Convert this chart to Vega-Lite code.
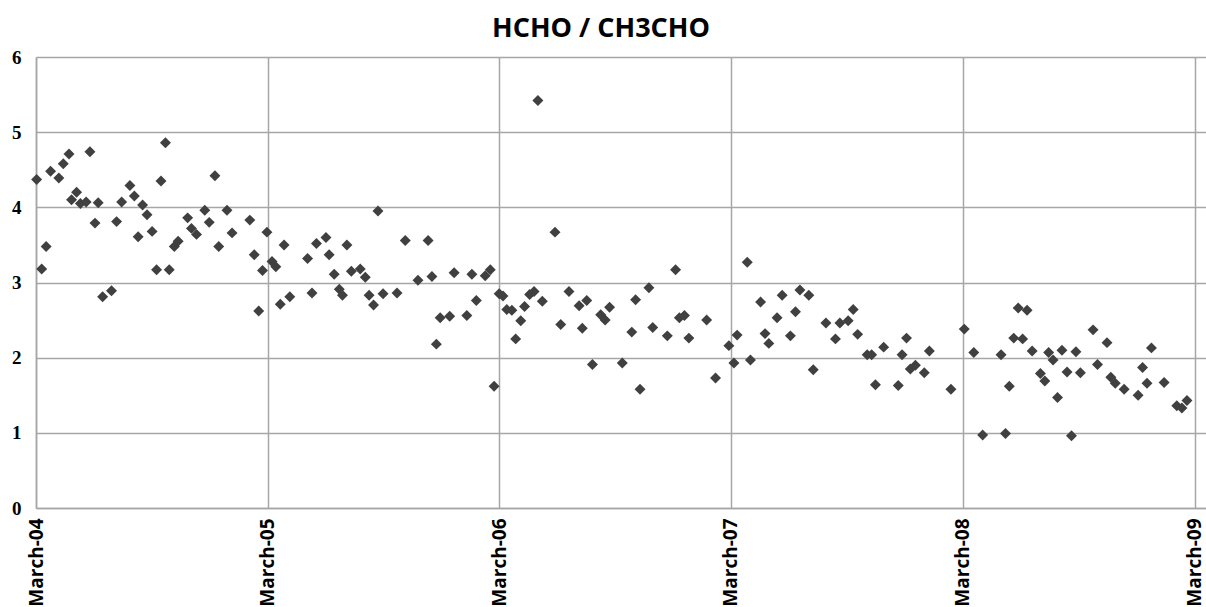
{
  "$schema": "https://vega.github.io/schema/vega-lite/v6.json",
  "width": 1170,
  "height": 451,
  "autosize": {"type": "none"},
  "padding": {"left": 36, "top": 57, "right": 0, "bottom": 99},
  "background": "white",
  "title": {
    "text": "HCHO / CH3CHO",
    "font": "Open Sans",
    "fontSize": 27,
    "fontWeight": "bold",
    "color": "#000000",
    "anchor": "middle",
    "dx": -20,
    "offset": 5
  },
  "config": {
    "view": {"stroke": null},
    "axis": {"domain": false}
  },
  "data": {
    "values": [
      {"date": "2004-03-02", "v": 4.37},
      {"date": "2004-03-10", "v": 3.18},
      {"date": "2004-03-17", "v": 3.48},
      {"date": "2004-03-24", "v": 4.48},
      {"date": "2004-04-06", "v": 4.39},
      {"date": "2004-04-13", "v": 4.58},
      {"date": "2004-04-22", "v": 4.71},
      {"date": "2004-04-26", "v": 4.10},
      {"date": "2004-05-04", "v": 4.20},
      {"date": "2004-05-10", "v": 4.05},
      {"date": "2004-05-19", "v": 4.07},
      {"date": "2004-05-25", "v": 4.74},
      {"date": "2004-06-02", "v": 3.79},
      {"date": "2004-06-07", "v": 4.06},
      {"date": "2004-06-14", "v": 2.81},
      {"date": "2004-06-28", "v": 2.89},
      {"date": "2004-07-06", "v": 3.81},
      {"date": "2004-07-14", "v": 4.07},
      {"date": "2004-07-27", "v": 4.29},
      {"date": "2004-08-03", "v": 4.15},
      {"date": "2004-08-09", "v": 3.61},
      {"date": "2004-08-16", "v": 4.03},
      {"date": "2004-08-23", "v": 3.90},
      {"date": "2004-08-31", "v": 3.68},
      {"date": "2004-09-07", "v": 3.17},
      {"date": "2004-09-14", "v": 4.35},
      {"date": "2004-09-21", "v": 4.86},
      {"date": "2004-09-27", "v": 3.17},
      {"date": "2004-10-05", "v": 3.48},
      {"date": "2004-10-11", "v": 3.55},
      {"date": "2004-10-26", "v": 3.86},
      {"date": "2004-11-01", "v": 3.72},
      {"date": "2004-11-09", "v": 3.64},
      {"date": "2004-11-22", "v": 3.96},
      {"date": "2004-11-29", "v": 3.80},
      {"date": "2004-12-08", "v": 4.42},
      {"date": "2004-12-14", "v": 3.48},
      {"date": "2004-12-27", "v": 3.96},
      {"date": "2005-01-04", "v": 3.66},
      {"date": "2005-02-01", "v": 3.83},
      {"date": "2005-02-08", "v": 3.37},
      {"date": "2005-02-15", "v": 2.62},
      {"date": "2005-02-21", "v": 3.16},
      {"date": "2005-02-28", "v": 3.67},
      {"date": "2005-03-08", "v": 3.28},
      {"date": "2005-03-14", "v": 3.21},
      {"date": "2005-03-21", "v": 2.71},
      {"date": "2005-03-27", "v": 3.50},
      {"date": "2005-04-05", "v": 2.81},
      {"date": "2005-05-03", "v": 3.32},
      {"date": "2005-05-10", "v": 2.86},
      {"date": "2005-05-17", "v": 3.52},
      {"date": "2005-06-01", "v": 3.60},
      {"date": "2005-06-06", "v": 3.37},
      {"date": "2005-06-14", "v": 3.11},
      {"date": "2005-06-22", "v": 2.91},
      {"date": "2005-06-27", "v": 2.83},
      {"date": "2005-07-04", "v": 3.50},
      {"date": "2005-07-11", "v": 3.15},
      {"date": "2005-07-25", "v": 3.18},
      {"date": "2005-08-02", "v": 3.07},
      {"date": "2005-08-08", "v": 2.83},
      {"date": "2005-08-15", "v": 2.70},
      {"date": "2005-08-22", "v": 3.95},
      {"date": "2005-08-30", "v": 2.85},
      {"date": "2005-09-21", "v": 2.86},
      {"date": "2005-10-04", "v": 3.56},
      {"date": "2005-10-24", "v": 3.03},
      {"date": "2005-11-09", "v": 3.56},
      {"date": "2005-11-15", "v": 3.08},
      {"date": "2005-11-22", "v": 2.18},
      {"date": "2005-11-28", "v": 2.53},
      {"date": "2005-12-13", "v": 2.55},
      {"date": "2005-12-20", "v": 3.13},
      {"date": "2006-01-09", "v": 2.56},
      {"date": "2006-01-17", "v": 3.11},
      {"date": "2006-01-24", "v": 2.76},
      {"date": "2006-02-07", "v": 3.09},
      {"date": "2006-02-15", "v": 3.17},
      {"date": "2006-02-21", "v": 1.62},
      {"date": "2006-03-01", "v": 2.85},
      {"date": "2006-03-07", "v": 2.82},
      {"date": "2006-03-13", "v": 2.64},
      {"date": "2006-03-21", "v": 2.63},
      {"date": "2006-03-27", "v": 2.25},
      {"date": "2006-04-04", "v": 2.49},
      {"date": "2006-04-10", "v": 2.68},
      {"date": "2006-04-18", "v": 2.84},
      {"date": "2006-04-25", "v": 2.88},
      {"date": "2006-05-01", "v": 5.42},
      {"date": "2006-05-08", "v": 2.75},
      {"date": "2006-05-28", "v": 3.67},
      {"date": "2006-06-06", "v": 2.44},
      {"date": "2006-06-19", "v": 2.88},
      {"date": "2006-07-05", "v": 2.69},
      {"date": "2006-07-10", "v": 2.39},
      {"date": "2006-07-17", "v": 2.76},
      {"date": "2006-07-26", "v": 1.91},
      {"date": "2006-08-08", "v": 2.57},
      {"date": "2006-08-15", "v": 2.50},
      {"date": "2006-08-22", "v": 2.67},
      {"date": "2006-09-11", "v": 1.93},
      {"date": "2006-09-26", "v": 2.34},
      {"date": "2006-10-02", "v": 2.77},
      {"date": "2006-10-09", "v": 1.58},
      {"date": "2006-10-23", "v": 2.93},
      {"date": "2006-10-29", "v": 2.40},
      {"date": "2006-11-21", "v": 2.29},
      {"date": "2006-12-04", "v": 3.17},
      {"date": "2006-12-10", "v": 2.53},
      {"date": "2006-12-18", "v": 2.56},
      {"date": "2006-12-25", "v": 2.26},
      {"date": "2007-01-22", "v": 2.50},
      {"date": "2007-02-05", "v": 1.73},
      {"date": "2007-02-26", "v": 2.16},
      {"date": "2007-03-06", "v": 1.93},
      {"date": "2007-03-11", "v": 2.30},
      {"date": "2007-03-27", "v": 3.27},
      {"date": "2007-04-01", "v": 1.97},
      {"date": "2007-04-17", "v": 2.74},
      {"date": "2007-04-24", "v": 2.32},
      {"date": "2007-04-30", "v": 2.19},
      {"date": "2007-05-13", "v": 2.53},
      {"date": "2007-05-21", "v": 2.83},
      {"date": "2007-06-03", "v": 2.29},
      {"date": "2007-06-11", "v": 2.61},
      {"date": "2007-06-18", "v": 2.90},
      {"date": "2007-07-02", "v": 2.83},
      {"date": "2007-07-09", "v": 1.84},
      {"date": "2007-07-29", "v": 2.46},
      {"date": "2007-08-13", "v": 2.25},
      {"date": "2007-08-20", "v": 2.46},
      {"date": "2007-09-02", "v": 2.49},
      {"date": "2007-09-10", "v": 2.64},
      {"date": "2007-09-17", "v": 2.31},
      {"date": "2007-10-02", "v": 2.04},
      {"date": "2007-10-09", "v": 2.04},
      {"date": "2007-10-15", "v": 1.64},
      {"date": "2007-10-28", "v": 2.14},
      {"date": "2007-11-20", "v": 1.63},
      {"date": "2007-11-26", "v": 2.04},
      {"date": "2007-12-03", "v": 2.26},
      {"date": "2007-12-09", "v": 1.85},
      {"date": "2007-12-17", "v": 1.90},
      {"date": "2007-12-31", "v": 1.80},
      {"date": "2008-01-08", "v": 2.09},
      {"date": "2008-02-11", "v": 1.58},
      {"date": "2008-03-03", "v": 2.38},
      {"date": "2008-03-18", "v": 2.07},
      {"date": "2008-04-01", "v": 0.97},
      {"date": "2008-04-30", "v": 2.04},
      {"date": "2008-05-07", "v": 0.99},
      {"date": "2008-05-13", "v": 1.62},
      {"date": "2008-05-20", "v": 2.26},
      {"date": "2008-05-27", "v": 2.66},
      {"date": "2008-06-03", "v": 2.25},
      {"date": "2008-06-10", "v": 2.63},
      {"date": "2008-06-18", "v": 2.09},
      {"date": "2008-07-01", "v": 1.79},
      {"date": "2008-07-08", "v": 1.69},
      {"date": "2008-07-14", "v": 2.07},
      {"date": "2008-07-21", "v": 1.97},
      {"date": "2008-07-28", "v": 1.47},
      {"date": "2008-08-04", "v": 2.10},
      {"date": "2008-08-12", "v": 1.81},
      {"date": "2008-08-19", "v": 0.96},
      {"date": "2008-08-26", "v": 2.08},
      {"date": "2008-09-02", "v": 1.80},
      {"date": "2008-09-22", "v": 2.37},
      {"date": "2008-09-29", "v": 1.91},
      {"date": "2008-10-14", "v": 2.20},
      {"date": "2008-10-20", "v": 1.74},
      {"date": "2008-10-27", "v": 1.66},
      {"date": "2008-11-10", "v": 1.58},
      {"date": "2008-12-02", "v": 1.50},
      {"date": "2008-12-09", "v": 1.87},
      {"date": "2008-12-16", "v": 1.66},
      {"date": "2008-12-23", "v": 2.13},
      {"date": "2009-01-12", "v": 1.67},
      {"date": "2009-02-01", "v": 1.36},
      {"date": "2009-02-09", "v": 1.33},
      {"date": "2009-02-17", "v": 1.43}
    ]
  },
  "mark": {"type": "point", "shape": "diamond", "filled": true, "size": 120, "color": "#404040", "opacity": 1},
  "encoding": {
    "x": {
      "field": "date",
      "type": "temporal",
      "scale": {
        "type": "utc",
        "domain": [
          {"year": 2004, "month": 3, "date": 1, "utc": true},
          {"year": 2009, "month": 3, "date": 19, "utc": true}
        ],
        "nice": false
      },
      "axis": {
        "title": null,
        "values": [
          {"year": 2004, "month": 3, "date": 1, "utc": true},
          {"year": 2005, "month": 3, "date": 1, "utc": true},
          {"year": 2006, "month": 3, "date": 1, "utc": true},
          {"year": 2007, "month": 3, "date": 1, "utc": true},
          {"year": 2008, "month": 3, "date": 1, "utc": true},
          {"year": 2009, "month": 3, "date": 1, "utc": true}
        ],
        "labelExpr": "utcFormat(datum.value, '%B') + '-' + utcFormat(datum.value, '%y')",
        "labelAngle": -90,
        "labelFont": "Open Sans",
        "labelFontSize": 19,
        "labelFontWeight": "bold",
        "labelColor": "#000000",
        "labelPadding": 10,
        "labelLimit": 400,
        "labelOverlap": false,
        "labelFlush": false,
        "ticks": false,
        "grid": true,
        "gridColor": "#a6a6a6",
        "gridWidth": 1.5,
        "domain": true,
        "domainColor": "#a6a6a6",
        "domainWidth": 1.5
      }
    },
    "y": {
      "field": "v",
      "type": "quantitative",
      "scale": {"domain": [0, 6], "nice": false, "zero": true},
      "axis": {
        "title": null,
        "values": [0, 1, 2, 3, 4, 5, 6],
        "format": "d",
        "labelFont": "Liberation Serif",
        "labelFontSize": 19,
        "labelFontWeight": "bold",
        "labelColor": "#000000",
        "labelPadding": 15,
        "ticks": false,
        "grid": true,
        "gridColor": "#a6a6a6",
        "gridWidth": 1.5,
        "domain": true,
        "domainColor": "#a6a6a6",
        "domainWidth": 1.5
      }
    }
  }
}
